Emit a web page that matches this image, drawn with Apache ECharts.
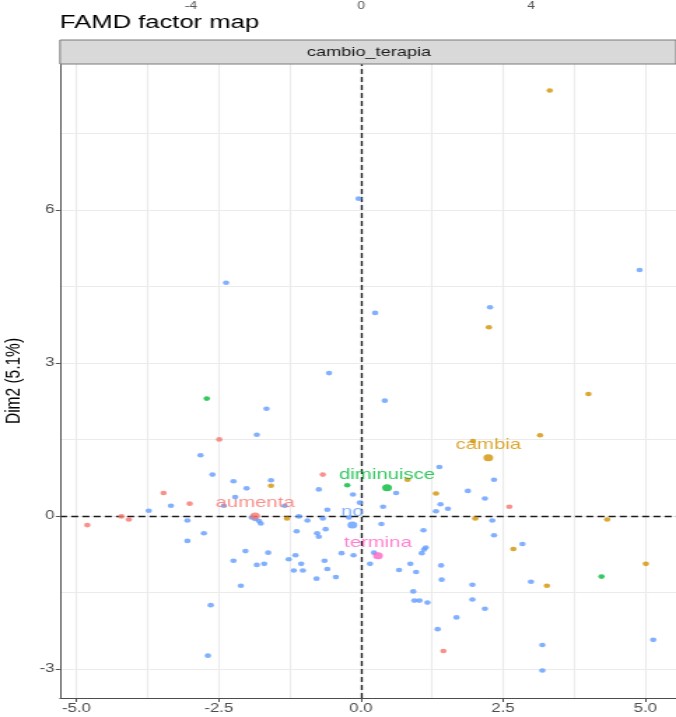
<!DOCTYPE html>
<html><head><meta charset="utf-8">
<script src="https://cdn.jsdelivr.net/npm/echarts@6/dist/echarts.min.js"></script>
<style>
html,body{margin:0;padding:0;background:#fff;overflow:hidden}
#wrap{width:676px;height:717px;overflow:hidden;position:relative}
#c{width:483px;height:717px;transform:scaleX(1.39959);transform-origin:0 0;position:absolute;left:0;top:0}
</style>
</head><body><div id="wrap"><div id="c"></div></div>
<script>
const categories = ['aumenta', 'cambia', 'diminuisce', 'no', 'termina'];
const catColors = ['#F8766D', '#D39200', '#00BA38', '#619CFF', '#FF61C3'];

const ptsAumenta = [[-2.49,1.50],[-3.47,0.45],[-3.01,0.24],[-4.21,-0.01],[-4.08,-0.07],[-4.81,-0.18],[-0.67,0.81],[2.61,0.18],[1.45,-2.65]];
const ptsCambia = [[3.32,8.34],[2.25,3.70],[4.00,2.39],[3.15,1.58],[1.97,1.47],[-1.58,0.59],[0.82,0.71],[1.32,0.44],[-1.30,-0.05],[2.01,-0.05],[4.33,-0.07],[2.68,-0.65],[3.27,-1.37],[5.01,-0.94]];
const ptsDiminuisce = [[-2.71,2.30],[-0.24,0.60],[4.23,-1.19]];
const ptsNo = [[-0.04,6.22],[-2.37,4.57],[4.90,4.82],[0.25,3.98],[2.27,4.09],[-0.56,2.80],[0.42,2.26],
  [-1.66,2.10],[-1.83,1.59],[-2.82,1.19],[-2.61,0.81],[-2.24,0.68],[-1.58,0.70],[-2.01,0.54],[-2.21,0.37],[-3.34,0.20],[-2.41,0.20],[-3.73,0.10],[-3.05,-0.09],[-1.92,-0.03],[-1.86,-0.06],[-1.79,-0.10],[-1.76,-0.15],[-2.76,-0.34],[-3.05,-0.49],[-2.03,-0.69],[-1.63,-0.72],[-2.24,-0.88],[-1.83,-0.96],[-1.70,-0.94],
  [1.38,0.96],[-0.74,0.52],[-0.14,0.42],[0.62,0.45],[-0.02,0.26],[0.39,0.18],[1.40,0.23],[1.53,0.14],[1.32,0.09],[-0.59,0.12],[-1.34,0.20],[-1.09,-0.01],[-0.94,-0.09],[-0.67,-0.05],[-0.21,-0.03],[0.36,-0.16],[-1.13,-0.30],[-0.62,-0.26],[-0.77,-0.34],[-0.74,-0.41],[1.10,-0.28],[1.14,-0.62],[1.11,-0.66],[1.07,-0.73],[-0.34,-0.73],[-0.13,-0.77],[0.23,-0.72],[-1.27,-0.85],[-1.15,-0.77],[-1.05,-0.94],[-0.64,-0.88],[0.16,-0.94],[0.87,-0.94],[1.41,-0.97],[-1.18,-1.07],[-1.02,-1.07],[-0.59,-1.04],[0.67,-1.06],[0.97,-1.10],[-0.78,-1.23],[-0.44,-1.20],[1.42,-1.25],
  [-2.11,-1.37],[-2.64,-1.75],[-2.69,-2.74],
  [2.84,-0.55],[1.96,-1.35],[2.99,-1.29],[0.92,-1.48],[0.94,-1.66],[1.03,-1.66],[1.17,-1.70],[1.96,-1.64],[2.18,-1.82],[1.68,-1.99],[1.35,-2.22],[3.19,-2.53],[3.19,-3.03],[5.14,-2.43],
  [2.34,0.71],[1.88,0.49],[2.18,0.34],[2.31,-0.09],[2.34,-0.38]];
const ptsTermina = [];
const catMeans = [[-1.86,0.00],[2.24,1.14],[0.46,0.55],[-0.15,-0.18],[0.30,-0.78]];

const xTicks = [-5, -2.5, 0, 2.5, 5];
const yTicks = [-3, 0, 3, 6];
const xGridVals = [-5, -3.75, -2.5, -1.25, 0, 1.25, 2.5, 3.75, 5];
const yGridVals = [-3, -1.5, 0, 1.5, 3, 4.5, 6, 7.5];
const topTicks = [-4, 0, 4];

const pointSets = [ptsAumenta, ptsCambia, ptsDiminuisce, ptsNo, ptsTermina];
const FONT = '"Liberation Sans", Arial, sans-serif';
const SX = 1.39959;            // horizontal stretch of the reference image
const L = 60 / SX;             // plot left edge in chart coords

const chart = echarts.init(document.getElementById('c'), null, {renderer: 'canvas'});

const series = [];
series.push({
  type: 'scatter', xAxisIndex: 0, yAxisIndex: 0, data: [], z: 0, silent: true,
  markLine: {
    z: 1, silent: true, symbol: ['none', 'none'], animation: false,
    label: {show: false}, emphasis: {disabled: true},
    lineStyle: {color: '#EBEBEB', width: 1.1, type: 'solid'},
    data: xGridVals.map(v => ({xAxis: v})).concat(yGridVals.map(v => ({yAxis: v})))
  }
});
series.push({
  type: 'scatter', xAxisIndex: 0, yAxisIndex: 0, data: [], z: 1, silent: true,
  markLine: {
    z: 2, silent: true, symbol: ['none', 'none'], animation: false,
    label: {show: false}, emphasis: {disabled: true},
    lineStyle: {color: '#1a1a1a', width: 1.3, type: [5, 3]},
    data: [{xAxis: 0}, {yAxis: 0}]
  }
});
categories.forEach((c, i) => {
  series.push({
    name: c, type: 'scatter', xAxisIndex: 0, yAxisIndex: 0, z: 3,
    symbolSize: 4.6, itemStyle: {color: catColors[i]},
    data: pointSets[i]
  });
});
categories.forEach((c, i) => {
  series.push({
    name: c + '_mean', type: 'scatter', xAxisIndex: 0, yAxisIndex: 0, z: 4,
    symbolSize: 7, itemStyle: {color: catColors[i]},
    label: {show: true, position: 'top', distance: 2, formatter: c,
      color: catColors[i], opacity: 0.8, fontSize: 14.5, fontFamily: FONT},
    data: [catMeans[i]]
  });
});

chart.setOption({
  animation: false,
  backgroundColor: '#fff',
  title: {text: 'FAMD factor map', left: 53 / SX, top: 9,
    textStyle: {fontSize: 18.3, fontWeight: 'normal', color: '#000', fontFamily: FONT}},
  graphic: [
    {type: 'rect', x: L, y: 40, shape: {width: 483 - L, height: 24},
     style: {fill: '#D9D9D9', stroke: '#7a7a7a', lineWidth: 1}, z: 10},
    {type: 'text', x: 369 / SX, y: 52, style: {text: 'cambio_terapia', fill: '#1A1A1A',
      align: 'center', verticalAlign: 'middle',
      font: '13px "Liberation Sans", Arial, sans-serif'}, z: 11}
  ],
  grid: [
    {left: L, right: 0, top: 64, bottom: 19, containLabel: false, outerBoundsMode: 'none'},
    {left: L, right: 0, top: 0, height: 1, containLabel: false, outerBoundsMode: 'none'}
  ],
  xAxis: [
    {type: 'value', gridIndex: 0, min: -5.29, max: 5.54, z: 5,
     axisLine: {show: true, onZero: false, lineStyle: {color: '#4D4D4D', width: 1}},
     axisTick: {show: true, length: 4, customValues: xTicks, lineStyle: {color: '#4D4D4D'}},
     axisLabel: {customValues: xTicks, formatter: v => v.toFixed(1), color: '#4D4D4D', fontSize: 12, margin: 5, fontFamily: FONT},
     splitLine: {show: false}},
    {type: 'value', gridIndex: 1, min: -7.08, max: 7.41, position: 'bottom',
     axisLine: {show: false}, axisTick: {show: false}, splitLine: {show: false},
     axisLabel: {customValues: topTicks, color: '#555', fontSize: 10, margin: 0, fontFamily: FONT}}
  ],
  yAxis: [
    {type: 'value', gridIndex: 0, min: -3.57, max: 8.86, z: 5,
     name: 'Dim2 (5.1%)', nameLocation: 'middle', nameGap: 21,
     nameTextStyle: {fontSize: 15.5, color: '#000', fontFamily: FONT},
     axisLine: {show: true, onZero: false, lineStyle: {color: '#4D4D4D', width: 1}},
     axisTick: {show: true, length: 3, customValues: yTicks, lineStyle: {color: '#4D4D4D'}},
     axisLabel: {customValues: yTicks, color: '#4D4D4D', fontSize: 12, margin: 4, fontFamily: FONT},
     splitLine: {show: false}},
    {type: 'value', gridIndex: 1, show: false}
  ],
  series: series
});
</script></body></html>
